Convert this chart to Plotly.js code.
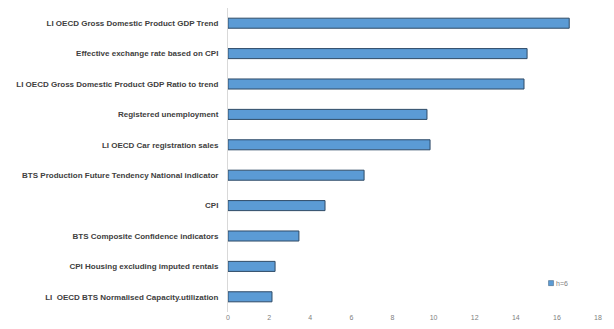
<!DOCTYPE html>
<html>
<head>
<meta charset="utf-8">
<script src="https://cdn.plot.ly/plotly-3.0.1.min.js"></script>
<style>html,body{margin:0;padding:0;background:#fff;}#chart{width:614px;height:329px;}</style>
</head>
<body>
<div id="chart"></div>
<script>
var categories = [
  "LI OECD Gross Domestic Product GDP Trend",
  "Effective exchange rate based on CPI",
  "LI OECD Gross Domestic Product GDP Ratio to trend",
  "Registered unemployment",
  "LI OECD Car registration sales",
  "BTS Production Future Tendency National indicator",
  "CPI",
  "BTS Composite Confidence indicators",
  "CPI Housing excluding imputed rentals",
  "LI  OECD BTS Normalised Capacity.utilization"
];
var values = [16.6, 14.55, 14.4, 9.68, 9.83, 6.62, 4.72, 3.45, 2.29, 2.14];
var seriesName = "h=6";
var xTicks = [0, 2, 4, 6, 8, 10, 12, 14, 16, 18];

var trace = {
  type: 'bar',
  orientation: 'h',
  y: categories,
  x: values,
  name: seriesName,
  showlegend: true,
  marker: {color: '#5B9BD5', line: {color: '#2E4A66', width: 1}}
};

var layout = {
  width: 614, height: 329,
  margin: {l: 228, r: 16, t: 8, b: 17},
  paper_bgcolor: '#fff', plot_bgcolor: '#fff',
  bargap: 0.67,
  font: {family: 'Liberation Sans, Arial, sans-serif'},
  xaxis: {
    range: [0, 18], tickvals: xTicks, ticktext: xTicks.map(String),
    showgrid: false, zeroline: false, showline: false,
    tickfont: {size: 7, color: '#808080'}, ticks: ''
  },
  yaxis: {
    type: 'category', categoryorder: 'array', categoryarray: categories,
    autorange: 'reversed',
    showgrid: false, zeroline: false, showline: true, linecolor: '#D9D9D9', linewidth: 1,
    ticks: '', ticklabelstandoff: 7,
    tickfont: {size: 8, color: '#404040', family: 'Liberation Sans, Arial, sans-serif', weight: 'bold'}
  },
  legend: {x: 0.819, y: 0.095, xanchor: 'left', yanchor: 'middle',
    font: {size: 7, color: '#808080'}, bgcolor: 'rgba(0,0,0,0)', itemwidth: 30,
    tracegroupgap: 0},
  showlegend: true
};

Plotly.newPlot('chart', [trace], layout, {displayModeBar: false, staticPlot: true}).then(function (gd) {
  var pts = gd.querySelectorAll('.legend .legendpoints path');
  pts.forEach(function (p) { p.setAttribute('transform', 'translate(20,0) scale(0.42)'); });
  var txt = gd.querySelectorAll('.legend .legendtext');
  txt.forEach(function (t) { t.setAttribute('x', '25'); });
});
</script>
</body>
</html>
